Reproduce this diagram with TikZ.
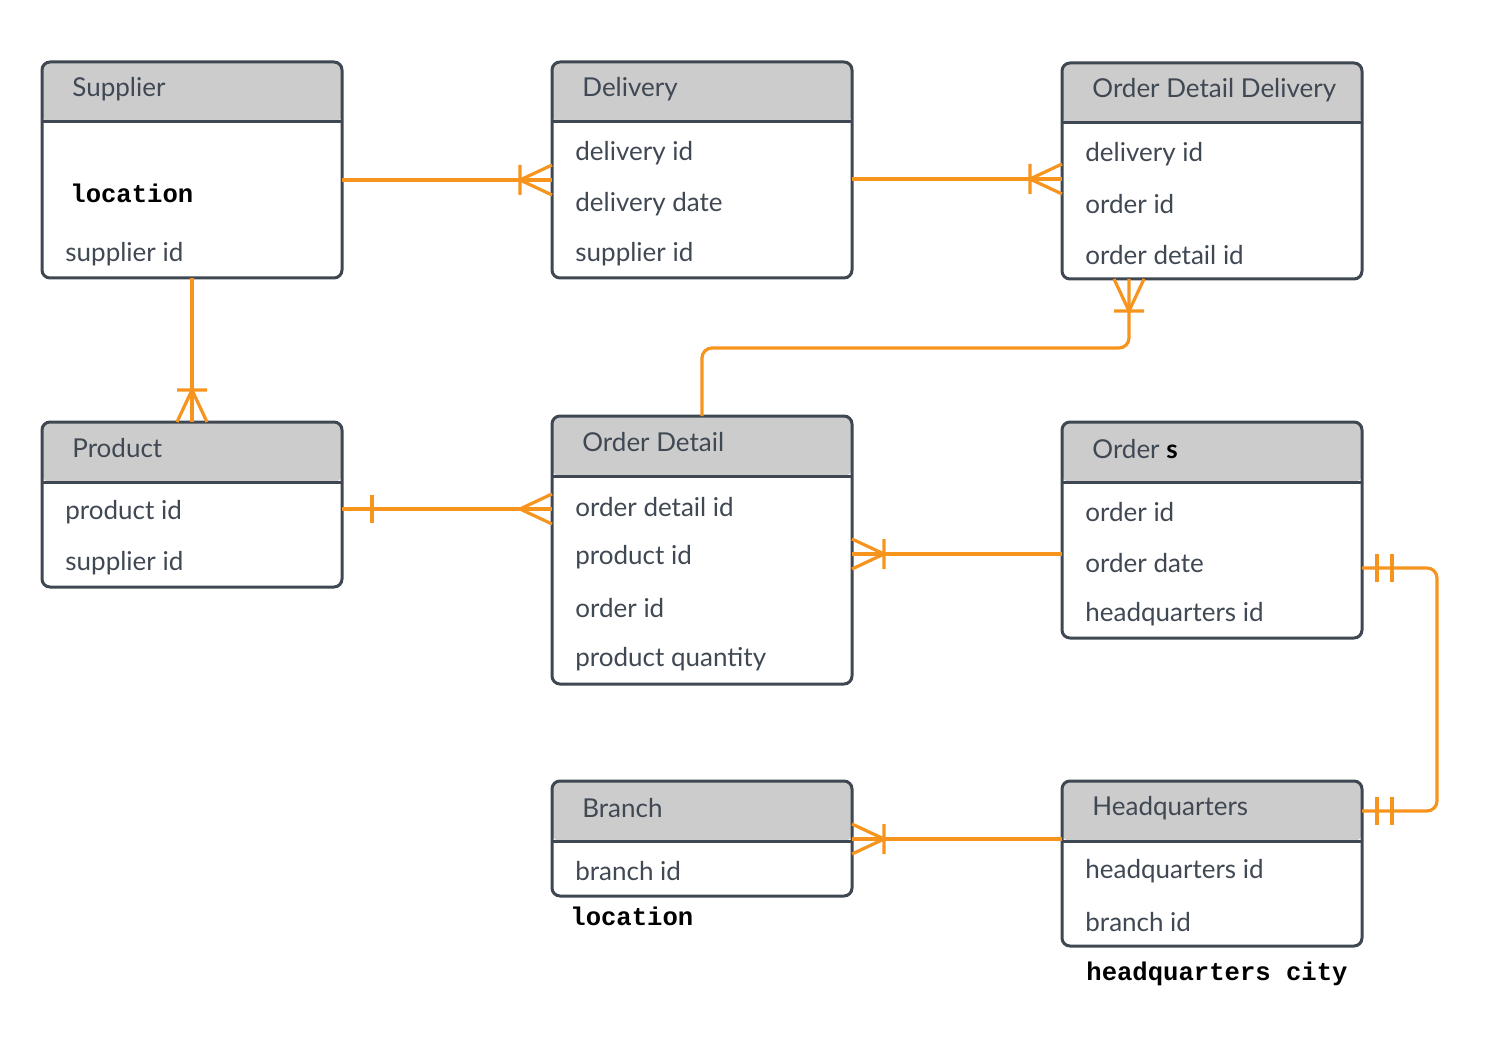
\documentclass[tikz,border=0pt]{standalone}
\usepackage{fontspec}
\setmainfont{Lato}
\newfontfamily\notefont{Liberation Mono}
\usetikzlibrary{calc}
\definecolor{edge}{HTML}{3F4752}
\definecolor{ink}{HTML}{3F4853}
\definecolor{hdr}{HTML}{CCCCCC}
\definecolor{ora}{HTML}{F7941D}
\tikzset{
  entity/.style={draw=edge,line width=1.5pt,rounded corners=4pt,minimum width=150pt,
    anchor=north west,inner sep=0pt,outer sep=0pt,
    path picture={\fill[hdr] (path picture bounding box.north west) rectangle ([yshift=-30pt]path picture bounding box.north east);
      \draw[edge,line width=1.5pt] ([yshift=-30pt]path picture bounding box.north west) -- ([yshift=-30pt]path picture bounding box.north east);}},
  attr/.style={anchor=west,inner sep=0pt,text=ink,font=\fontsize{13}{15}\selectfont},
  note/.style={anchor=west,inner sep=0pt,font=\notefont\bfseries\fontsize{12.8}{14}\selectfont},
  rel/.style={draw=ora,line width=1.6pt},
  pics/many/.style={code={\draw[rel] (0,15) -- (32,0) -- (0,-15);}},
  pics/onemany/.style={code={\draw[rel] (0,15) -- (32,0) -- (0,-15) (32,15) -- (32,-15);}},
  pics/one/.style={code={\draw[rel] (30,14) -- (30,-14);}},
  pics/onlyone/.style={code={\draw[rel] (15,14) -- (15,-14) (30,14) -- (30,-14);}},
}
\begin{document}
\begin{tikzpicture}[x=0.5pt,y=-0.5pt]
\useasboundingbox (0,0) rectangle (1494,1064);
% entities
\foreach \n/\x/\y/\h in {sup/42/62/108,del/552/62/108,odd/1062/63/108,prod/42/422/82.5,
  od/552/416/134,ord/1062/422/108,br/552/781/57.5,hq/1062/781/82.5}
  \node[entity,minimum height=\h pt] (\n) at (\x,\y) {};
% titles
\node[attr] (sup-t) at (72,89) {Supplier};
\node[attr] (del-t) at (582,89) {Delivery};
\node[attr] (odd-t) at (1092,90) {Order Detail Delivery};
\node[attr] (prod-t) at (72,448) {Product};
\node[attr] (od-t) at (582,442) {Order Detail};
\node[attr] (ord-t) at (1092,449) {Order {\color{black}\bfseries s}};
\node[attr] (br-t) at (582,808) {Branch};
\node[attr] (hq-t) at (1092,808) {Headquarters};
% attributes
\node[note] (sup-loc) at (70,193) {location};
\node[attr] (sup-a1) at (65,254) {supplier id};
\node[attr] (del-a1) at (575,153) {delivery id};
\node[attr] (del-a2) at (575,204) {delivery date};
\node[attr] (del-a3) at (575,254) {supplier id};
\node[attr] (odd-a1) at (1085,154) {delivery id};
\node[attr] (odd-a2) at (1085,204) {order id};
\node[attr] (odd-a3) at (1085,255) {order detail id};
\node[attr] (prod-a1) at (65,512) {product id};
\node[attr] (prod-a2) at (65,563) {supplier id};
\node[attr] (od-a1) at (575,507) {order detail id};
\node[attr] (od-a2) at (575,557) {product id};
\node[attr] (od-a3) at (575,608) {order id};
\node[attr] (od-a4) at (575,659) {product quantity};
\node[attr] (ord-a1) at (1085,512) {order id};
\node[attr] (ord-a2) at (1085,563) {order date};
\node[attr] (ord-a3) at (1085,614) {headquarters id};
\node[attr] (br-a1) at (575,871) {branch id};
\node[note] (br-loc) at (570,916) {location};
\node[attr] (hq-a1) at (1085,871) {headquarters id};
\node[attr] (hq-a2) at (1085,922) {branch id};
\node[note] (hq-city) at (1086,974) {headquarters city};
% relationships
\draw[rel] (sup.east |- 0,180) -- (del.west |- 0,180);
\pic[rotate=180] at (del.west |- 0,180) {onemany};
\draw[rel] (del.east |- 0,179) -- (odd.west |- 0,179);
\pic[rotate=180] at (odd.west |- 0,179) {onemany};
\draw[rel] (sup.south) -- (prod.north);
\pic[rotate=90] at (prod.north) {onemany};
\draw[rel] (prod.east |- 0,509) -- (od.west |- 0,509);
\pic at (prod.east |- 0,509) {one};
\pic[rotate=180] at (od.west |- 0,509) {many};
\draw[rel,rounded corners=5pt] (od.north) |- (1129,348) -- (odd.south -| 1129,0);
\pic[rotate=-90] at (odd.south -| 1129,0) {onemany};
\draw[rel] (ord.west |- 0,554) -- (od.east |- 0,554);
\pic at (od.east |- 0,554) {onemany};
\draw[rel,rounded corners=5pt] (ord.east |- 0,568) -- (1437,568) |- (hq.east |- 0,811);
\pic at (ord.east |- 0,568) {onlyone};
\pic at (hq.east |- 0,811) {onlyone};
\draw[rel] (hq.west |- 0,839) -- (br.east |- 0,839);
\pic at (br.east |- 0,839) {onemany};
\end{tikzpicture}
\end{document}
